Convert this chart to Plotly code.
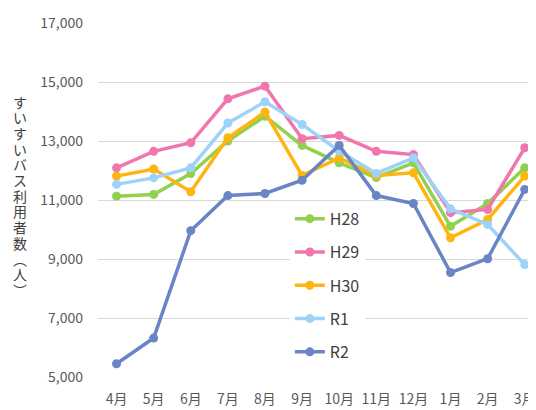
import plotly.graph_objects as go

months = ['4月', '5月', '6月', '7月', '8月', '9月', '10月', '11月', '12月', '1月', '2月', '3月']

h28 = [11130, 11190, 11900, 13000, 13840, 12850, 12260, 11760, 12260, 10110, 10880, 12090]
h29 = [12090, 12650, 12940, 14430, 14860, 13080, 13190, 12650, 12540, 10570, 10680, 12770]
h30 = [11810, 12050, 11280, 13110, 13980, 11830, 12430, 11830, 11920, 9720, 10340, 11810]
r1 = [11530, 11750, 12090, 13610, 14330, 13560, 12660, 11900, 12430, 10700, 10170, 8810]
r2 = [5450, 6320, 9960, 11150, 11220, 11670, 12850, 11150, 10880, 8540, 9010, 11360]

series_names = ['H28', 'H29', 'H30', 'R1', 'R2']
series_values = [h28, h29, h30, r1, r2]
colors = ['#92D050', '#F176AE', '#FFB511', '#9DD3F9', '#6A85C6']

y_ticks = [5000, 7000, 9000, 11000, 13000, 15000, 17000]
y_title = 'すいすいバス利用者数︵人︶'

font_family = 'Noto Sans CJK JP'
gray = '#595959'

traces = []
for name, values, color in zip(series_names, series_values, colors):
    traces.append(go.Scatter(
        x = months,
        y = values,
        name = name,
        legendgroup = name,
        mode = 'lines+markers',
        line = dict(width = 3.5, color = color),
        marker = dict(size = 9, color = color),
    ))

# vertical (tategaki) axis title: one character per annotation
title_annotations = []
n = len(y_title)
for i, ch in enumerate(y_title):
    title_annotations.append(dict(
        text = ch,
        xref = 'paper', yref = 'paper',
        x = -0.178, y = 0.512,
        xanchor = 'center', yanchor = 'middle',
        yshift = ((n - 1) / 2 - i) * 15.7,
        showarrow = False,
        font = dict(size = 14, color = '#404040'),
    ))

# the page adds an 8px body margin, so the figure is 8px smaller
layout = dict(
    width = 528,
    height = 402,
    margin = dict(l = 90, r = 0, t = 15, b = 33),
    paper_bgcolor = 'white',
    plot_bgcolor = 'white',
    font = dict(family = font_family, color = gray, size = 13),
    showlegend = True,
    legend = dict(
        x = 0.44, y = 0.495,
        xanchor = 'left', yanchor = 'top',
        bgcolor = 'white',
        font = dict(size = 16, color = '#404040'),
        tracegroupgap = 9.5,
    ),
    xaxis = dict(
        type = 'category',
        range = [-0.5, 11.25],
        showgrid = False,
        zeroline = False,
        showline = False,
        ticks = '',
        ticklabelstandoff = 12,
        tickfont = dict(size = 14, color = gray),
    ),
    yaxis = dict(
        range = [5000, 17000],
        tickvals = y_ticks,
        tickformat = ',d',
        showgrid = True,
        gridcolor = '#D9D9D9',
        gridwidth = 1,
        zeroline = False,
        showline = False,
        ticks = '',
        ticklabelstandoff = 14,
        tickfont = dict(size = 14, color = gray),
    ),
    annotations = title_annotations,
)

fig = go.Figure(data = traces, layout = layout)
fig.write_html('out.html')
